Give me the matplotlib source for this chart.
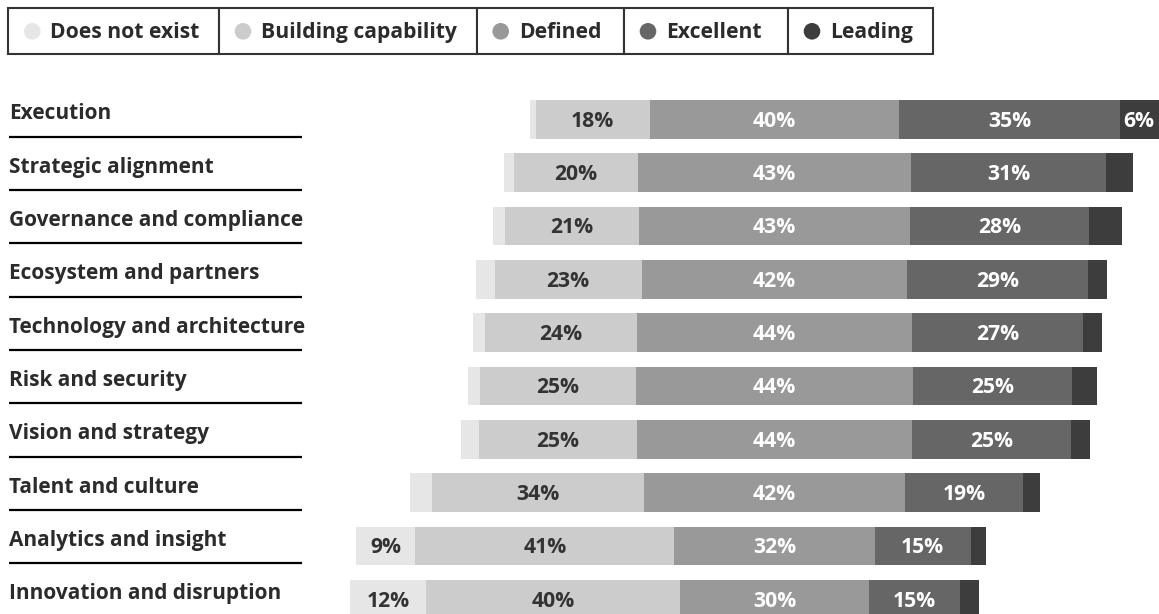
import numpy as np
import matplotlib.pyplot as plt
from matplotlib.patches import Rectangle, Circle

plt.rcParams['font.family'] = ['Open Sans', 'DejaVu Sans']

categories = ["Execution", "Strategic alignment", "Governance and compliance",
              "Ecosystem and partners", "Technology and architecture",
              "Risk and security", "Vision and strategy", "Talent and culture",
              "Analytics and insight", "Innovation and disruption"]
levels = ["Does not exist", "Building capability", "Defined", "Excellent", "Leading"]

# shares in %
does_not_exist = [1.0, 1.6, 1.9, 2.9, 1.9, 1.9, 2.9, 3.5, 9.4, 12.2]
building = [18.1, 19.7, 21.3, 23.4, 24.2, 24.8, 25.2, 33.7, 41.2, 40.4]
defined = [39.7, 43.4, 43.1, 42.2, 43.7, 44.0, 43.6, 41.5, 31.8, 29.9]
excellent = [35.0, 31.0, 28.4, 28.8, 27.2, 25.3, 25.3, 18.8, 15.3, 14.6]
leading = [6.2, 4.3, 5.3, 2.9, 3.0, 4.0, 3.0, 2.7, 2.4, 2.9]

colors = ["#e6e6e6", "#cccccc", "#999999", "#666666", "#3d3d3d"]
text_colors = ["#333333", "#333333", "white", "white", "white"]
dark = "#2b2b2b"
fs = 15.2

W, H = 1159, 614
fig = plt.figure(figsize=(W / 100, H / 100), dpi=100)
ax = fig.add_axes([0, 0, 1, 1])
ax.axis('off')

data = np.array([does_not_exist, building, defined, excellent, leading]).T

# diverging around the middle of "Defined"
center_px = 774.5
px_per_pct = 6.29
ax.set_xlim(-center_px / px_per_pct, (W - center_px) / px_per_pct)
row0, row_step = 119.4, 53.33
ax.set_ylim((H - row0) / row_step, -row0 / row_step)

y = np.arange(len(categories))
left = -(data[:, 0] + data[:, 1] + data[:, 2] / 2)
for j in range(len(levels)):
    ax.barh(y, data[:, j], left=left, height=0.726, color=colors[j], linewidth=0)
    for i in range(len(y)):
        v = data[i, j]
        if round(v) >= 6:
            ax.text(left[i] + v / 2, y[i] + 0.138, f"{round(v)}%", ha='center',
                    va='baseline', color=text_colors[j], fontsize=fs,
                    fontweight='bold')
    left = left + data[:, j]

# category labels with rules underneath
tr = ax.get_yaxis_transform()
for i, cat in enumerate(categories):
    ax.text(9 / W, y[i], cat, transform=tr, ha='left', va='baseline',
            fontsize=15.0, fontweight='bold', color=dark)
    if i < len(categories) - 1:
        ax.plot([9 / W, 302 / W], [y[i] + 0.325, y[i] + 0.325], transform=tr,
                color='black', linewidth=1.6, solid_capstyle='butt')

# legend strip
lax = fig.add_axes([0, 0, 1, 1])
lax.set_xlim(0, W)
lax.set_ylim(H, 0)
lax.axis('off')
edges = [8.3, 219, 476.7, 624, 788, 933.3]
top, bottom = 8.3, 54.3
for k, name in enumerate(levels):
    x0, x1 = edges[k], edges[k + 1]
    lax.add_patch(Rectangle((x0, top), x1 - x0, bottom - top, facecolor='white',
                            edgecolor='#333333', linewidth=1.5))
    lax.add_patch(Circle((x0 + 24, 31.3), 8.3, facecolor=colors[k], edgecolor='none'))
    lax.text(x0 + 42, 38.3, name, ha='left', va='baseline', fontsize=fs,
             fontweight='bold', color=dark)

fig.savefig("out.png", dpi=100)
